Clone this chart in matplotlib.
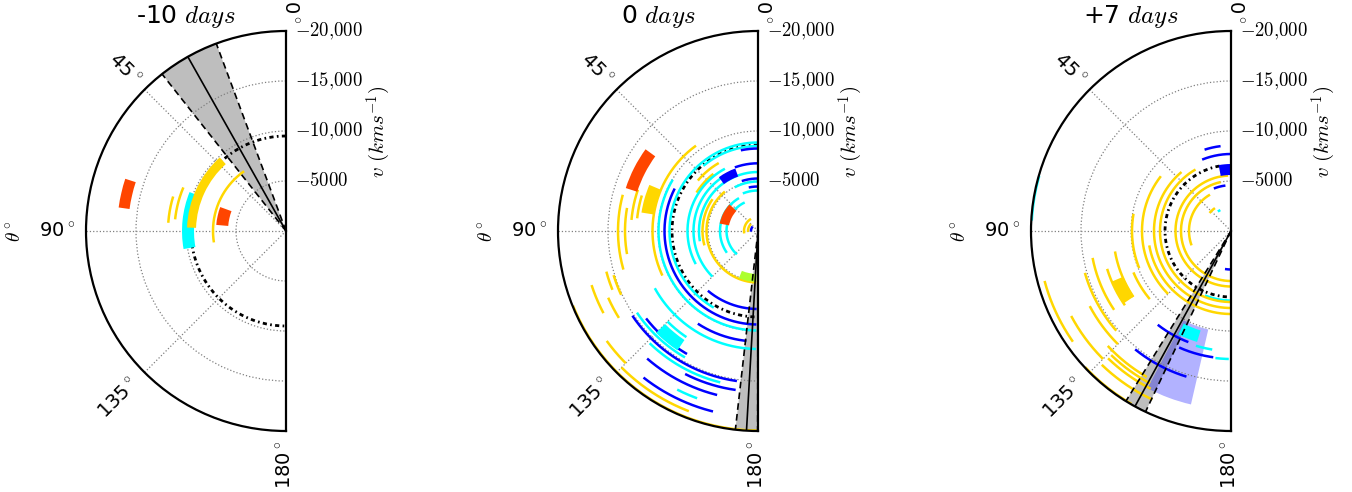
import numpy as np
import matplotlib
matplotlib.use('Agg')
import matplotlib.pyplot as plt

plt.rcParams['mathtext.fontset'] = 'cm'
plt.rcParams['font.family'] = 'DejaVu Sans'

# ---------------- data ----------------
titles = ['-10 $days$', '0 $days$', '+7 $days$']
r_ticks = [5000, 10000, 15000, 20000]
r_ticklabels = ['$-5000$', '$-10{,}000$', '$-15{,}000$', '$-20{,}000$']
theta_ticks = [0, 45, 90, 135, 180]

# species colour codes
colors = {'G': '#FFD700', 'C': '#00FFFF', 'B': '#0000FF', 'R': '#FF4500', 'Y': '#ADFF2F'}

# arcs: (velocity, theta_start, theta_end, species)
arcs_m10 = [
    (11800, 73, 86, 'G'), (11150, 67, 84, 'G'), (7300, 35, 99, 'G'),
]
blocks_m10 = [  # (theta1, theta2, v1, v2, species)
    (72, 82, 15800, 16900, 'R'), (70, 85, 5800, 7000, 'R'),
    (68, 100, 9200, 10400, 'C'), (42, 88, 9000, 9900, 'G'),
]
wedge_m10 = (20.4, 29.4, 38.3)
photo_m10 = (9500, 0, 180)

arcs_0 = [
    (19950, 112, 180, 'G'), (19300, 135, 159, 'G'), (18700, 126, 135, 'G'),
    (17500, 108, 118, 'G'), (16400, 114, 122, 'G'), (15700, 105, 112, 'G'),
    (15100, 107, 115, 'G'), (14000, 75, 106, 'G'), (13300, 80, 100, 'G'),
    (12700, 71, 85, 'G'), (12150, 73, 84, 'G'), (10550, 36, 115, 'G'),
    (7850, 30, 50, 'G'), (7250, 38, 58, 'G'), (5550, 55, 105, 'G'),
    (5150, 40, 178, 'G'), (1400, 30, 100, 'G'), (1000, 45, 95, 'G'),
    (8850, 0, 150, 'C'), (8500, 0, 40, 'C'), (9950, 59, 179, 'C'),
    (11800, 119, 179, 'C'), (7050, 28, 118, 'C'), (6450, 25, 135, 'C'),
    (5900, 0, 100, 'C'), (4950, 0, 28, 'C'), (4050, 0, 22, 'C'),
    (3800, 30, 125, 'C'), (3150, 25, 138, 'C'), (17800, 153, 160, 'C'),
    (15600, 136, 166, 'C'), (12800, 135, 146, 'C'), (14600, 124, 150, 'C'),
    (9350, 63, 179, 'B'), (8250, 0, 12, 'B'), (6770, 0, 20, 'B'),
    (5250, 0, 18, 'B'), (4450, 0, 12, 'B'), (7800, 140, 179, 'B'),
    (11050, 147, 174, 'B'), (15150, 124, 172, 'B'), (16900, 139, 166, 'B'),
    (18600, 142, 166, 'B'), (16050, 153, 172, 'B'), (14200, 128, 150, 'B'),
    (700, 50, 95, 'B'),
]
blocks_0 = [
    (54, 72, 12700, 13900, 'R'), (67, 81, 10600, 11800, 'G'),
    (20, 36, 5800, 6650, 'B'), (47, 79, 2950, 3900, 'R'),
    (158, 178, 4300, 5100, 'Y'), (135, 146, 13150, 14400, 'C'),
]
wedge_0 = (173.5, 176.7, 179.9)
photo_0 = (8600, 0, 180)

arcs_p7 = [
    (8550, 7, 18, 'B'), (7700, 0, 22, 'B'), (4580, 7, 22, 'B'), (3850, 171, 179, 'B'),
    (11900, 142, 159, 'B'), (12750, 156, 172, 'B'), (15230, 141, 163, 'B'),
    (2350, 27, 34, 'C'), (6950, 158, 179, 'C'), (19950, 74, 87, 'C'),
    (12000, 163, 171, 'C'), (12800, 173, 179, 'C'),
    (19950, 133, 150, 'G'), (19300, 105, 125, 'G'), (18600, 136, 155, 'G'),
    (18100, 118, 135, 'G'), (17700, 136, 153, 'G'), (17250, 136, 152, 'G'),
    (16850, 133, 150, 'G'), (16000, 118, 135, 'G'), (15200, 106, 131, 'G'),
    (14100, 101, 124, 'G'), (12950, 107, 125, 'G'), (11780, 100, 124, 'G'),
    (10600, 113, 130, 'G'), (9900, 80, 112, 'G'), (8900, 52, 135, 'G'),
    (8300, 100, 180, 'G'), (7700, 40, 180, 'G'), (7100, 30, 180, 'G'),
    (5550, 3, 180, 'G'), (5000, 12, 180, 'G'), (4200, 30, 110, 'G'),
    (2800, 35, 50, 'G'),
]
blocks_p7 = [
    (0, 10.6, 5600, 6700, 'B'), (113, 124, 11700, 12900, 'G'),
    (153, 163, 10400, 11600, 'C'),
]
shade_p7 = (152, 167, 10100, 17800)
wedge_p7 = (148.3, 151.3, 154.7)
photo_p7 = (6600, 10, 180)

panels = [
    (arcs_m10, blocks_m10, wedge_m10, photo_m10, None),
    (arcs_0, blocks_0, wedge_0, photo_0, None),
    (arcs_p7, blocks_p7, wedge_p7, photo_p7, shade_p7),
]

# ---------------- layout ----------------
W, H = 1352, 492
fig = plt.figure(figsize=(W / 100, H / 100), dpi=100)
centers = [286, 758, 1231]
R_PX = 200
CY = 231

theta_lab = [(0, -1, 21900, -90), (45, 45, 22900, -45), (90, 90, 22900, 0),
             (135, 135, 23700, 45), (180, 179.8, 23400, 90)]


def arc(ax, r, t1, t2, color, lw=1.8, **kw):
    th = np.deg2rad(np.linspace(t1, t2, 200))
    ax.plot(th, np.full_like(th, r), color=color, lw=lw, solid_capstyle='butt', **kw)


for i, (arcs, blocks, wedge, photo, shade) in enumerate(panels):
    cx = centers[i]
    ax = fig.add_axes([(cx - 300) / W, (H - CY - R_PX) / H, 400 / W, 400 / H],
                      projection='polar')
    ax.set_theta_zero_location('N')
    ax.set_theta_direction(1)
    ax.set_thetamin(0)
    ax.set_thetamax(180)
    ax.set_rlim(0, 20000)

    ax.set_thetagrids(theta_ticks, labels=[''] * len(theta_ticks))
    ax.set_rgrids(r_ticks, labels=r_ticklabels)
    ax.tick_params(axis='y', labelsize=13.5, length=5, width=1, pad=1.5)
    ax.grid(True, color='gray', linestyle=':', linewidth=0.9)
    for s in ax.spines.values():
        s.set_linewidth(1.6)
        s.set_color('black')
        s.set_zorder(6)

    # viewing-angle wedge
    a1, ac, a2 = wedge
    ax.bar(np.deg2rad((a1 + a2) / 2), 20000, width=np.deg2rad(a2 - a1), bottom=0,
           color='#bebebe', linewidth=0, zorder=1)
    if shade is not None:
        t1, t2, v1, v2 = shade
        ax.bar(np.deg2rad((t1 + t2) / 2), v2 - v1, width=np.deg2rad(t2 - t1), bottom=v1,
               color=(0, 0, 1, 0.3), linewidth=0, zorder=1.5)

    # photosphere
    rp, tp1, tp2 = photo
    arc(ax, rp, tp1, tp2, 'black', lw=2.0, linestyle=(0, (1.5, 1.2, 0.6, 1.2)), zorder=2)

    for (r, t1, t2, sp) in arcs:
        arc(ax, r, t1, t2, colors[sp], zorder=3)
    for (t1, t2, v1, v2, sp) in blocks:
        ax.bar(np.deg2rad((t1 + t2) / 2), v2 - v1, width=np.deg2rad(t2 - t1), bottom=v1,
               color=colors[sp], linewidth=0, zorder=4)

    for a, ls in ((a1, (0, (4, 2.5))), (a2, (0, (4, 2.5))), (ac, '-')):
        ax.plot([np.deg2rad(a), np.deg2rad(a)], [0, 20000], color='black', lw=1.2,
                linestyle=ls, zorder=5)

    for (t, tpos, rpos, rot) in theta_lab:
        ax.text(np.deg2rad(tpos), rpos, '%d$^\\circ$' % t, rotation=rot, ha='center',
                va='center', fontsize=14, clip_on=False)

    fig.text((cx - 100) / W, 1 - 16 / H, titles[i], ha='center', va='center', fontsize=18)
    fig.text((cx + 93) / W, 1 - 132 / H, r'$v\ (kms^{-1})$', rotation=90,
             ha='center', va='center', fontsize=15)
    fig.text((cx - 271) / W, 1 - CY / H, r'$\theta^\circ$', rotation=90,
             ha='center', va='center', fontsize=14)

fig.savefig('out.png', dpi=100)
